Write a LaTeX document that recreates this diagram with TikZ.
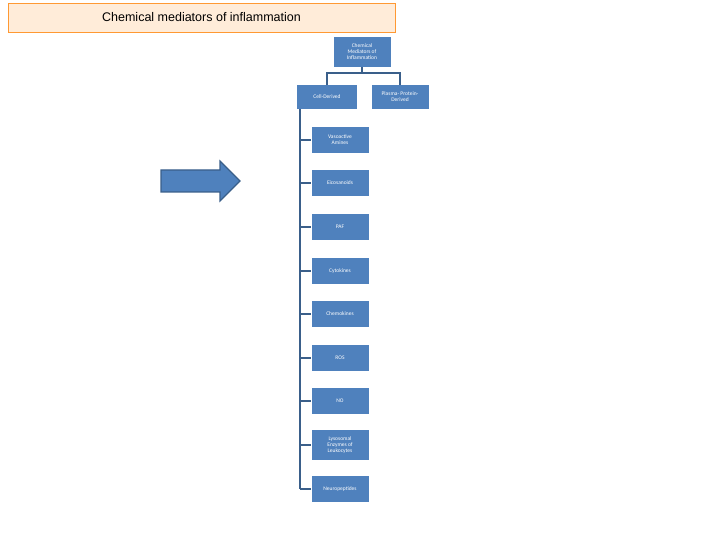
\documentclass[tikz,border=0pt]{standalone}
\usepackage{fontspec}
\setmainfont{Carlito}
\newfontfamily\titlefont{Liberation Sans}
\definecolor{boxblue}{HTML}{4F81BD}
\definecolor{lineblue}{HTML}{3A5F8A}
\begin{document}
\begin{tikzpicture}[x=1pt,y=-1pt]
\tikzset{mbox/.style={fill=boxblue,text=white,font=\fontsize{5.5}{6}\selectfont,align=center,inner sep=1pt,minimum width=57pt,minimum height=26pt},
  link/.style={lineblue,line width=1.6pt}}
\useasboundingbox (0,0) rectangle (720,540);
\draw (201.5,17.5) node[draw=orange!80,fill=orange!15,minimum width=387pt,minimum height=29pt,font=\titlefont\fontsize{12.5}{14}\selectfont] (title) {Chemical mediators of inflammation};
\draw[fill=boxblue,draw=lineblue,line width=1.2pt,line join=miter] (161,170) -- (220,170) -- (220,161) -- (240,181) -- (220,201) -- (220,192) -- (161,192) -- cycle;

\draw (362,52) node[mbox,minimum height=30pt] (root) {Chemical\\Mediators of\\Inflammation};
\draw (327,97) node[mbox,minimum width=60pt,minimum height=24pt] (cell) {Cell-Derived};
\draw (400,97) node[mbox,minimum height=24pt] (plasma) {Plasma- Protein-\\Derived};
\draw[link] (root.south) -- ++(0,6) coordinate (mid);
\draw[link] (cell.north) |- (mid) -| (plasma.north);

\draw (340,140) node[mbox] (c1) {Vasoactive\\Amines};
\draw (340,183) node[mbox] (c2) {Eicosanoids};
\draw (340,227) node[mbox] (c3) {PAF};
\draw (340,271) node[mbox] (c4) {Cytokines};
\draw (340,314) node[mbox] (c5) {Chemokines};
\draw (340,358) node[mbox] (c6) {ROS};
\draw (340,401) node[mbox] (c7) {NO};
\draw (340,445) node[mbox,minimum height=30pt] (c8) {Lysosomal\\Enzymes of\\Leukocytes};
\draw (340,489) node[mbox] (c9) {Neuropeptides};

\coordinate (trunk) at (300,109);
\draw[link] (trunk) -- (trunk |- c9);
\foreach \i in {1,...,9}
  \draw[link] (trunk |- c\i) -- (c\i.west);
\end{tikzpicture}
\end{document}
